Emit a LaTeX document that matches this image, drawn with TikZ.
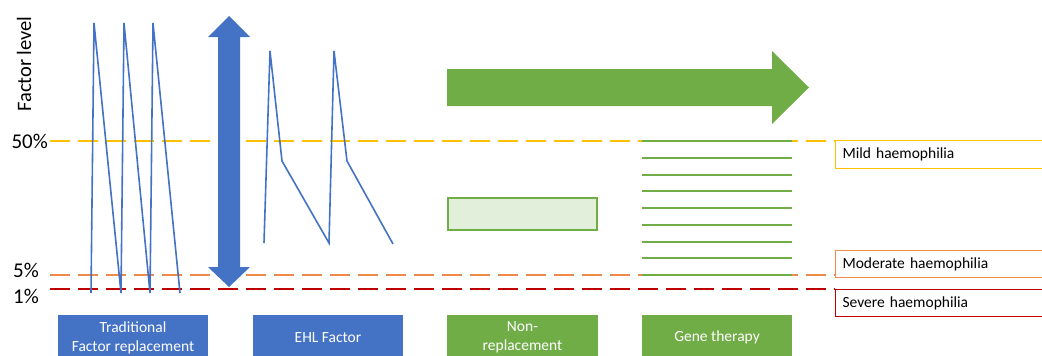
\documentclass[tikz,border=0pt]{standalone}
\usepackage{fontspec}
\setmainfont{Carlito}
\definecolor{cblue}{HTML}{4472C4}
\definecolor{cgreen}{HTML}{70AD47}
\definecolor{clight}{HTML}{E2EFDA}
\definecolor{cyellow}{HTML}{FFC000}
\definecolor{corange}{HTML}{EE8A4A}
\definecolor{cred}{HTML}{C00000}
\begin{document}
\begin{tikzpicture}[x=1pt,y=-1pt,
  levelline/.style={line width=2pt,dash pattern=on 20pt off 8pt},
  zig/.style={cblue,line width=1.6pt,line join=miter},
  catbox/.style={minimum width=150pt,minimum height=46pt,inner sep=0pt,text=white,font=\fontsize{15.5}{19}\selectfont,align=center},
  lvlbox/.style={minimum width=230pt,minimum height=28pt,inner sep=0pt,line width=1pt,font=\fontsize{15.5}{18}\selectfont,anchor=north west,text width=216pt,align=left},
  pct/.style={anchor=east,font=\fontsize{21}{24}\selectfont,inner sep=0pt},
  geneline/.style={cgreen,line width=2pt}]
\useasboundingbox (0,0) rectangle (1042,356);
\clip (0,0) rectangle (1042,356);
% axis labels
\node[rotate=90,font=\fontsize{20.5}{24}\selectfont,inner sep=0pt] (flevel) at (24,64) {Factor level};
\node[pct] (p50) at (48,141) {50\%};
\node[pct] (p5) at (39,270) {5\%};
\node[pct] (p1) at (39,296) {1\%};
% level boxes
\node[lvlbox,draw=cyellow] (mild) at (835,140) {Mild haemophilia};
\node[lvlbox,draw=corange,minimum height=27pt] (moderate) at (835,250) {Moderate haemophilia};
\node[lvlbox,draw=cred,minimum height=27pt] (severe) at (835,289) {Severe haemophilia};
\coordinate (l50) at (50,141);
\coordinate (l5) at (50,275);
\coordinate (l1) at (50,289);
\draw[levelline,cyellow] (l50) -- (l50 -| mild.west);
\draw[levelline,corange] (l5) -- (l5 -| moderate.west);
\draw[levelline,cred] (l1) -- (l1 -| severe.west);
% traditional zigzag
\draw[zig] (91,293) -- (94,23) -- (121,293) -- (124,23) -- (150,293) -- (153,23) -- (180,293);
% blue double arrow
\fill[cblue] (229,16) -- (250,37) -- (240,37) -- (240,267) -- (250,267) -- (229,287) -- (208,267) -- (218,267) -- (218,37) -- (208,37) -- cycle;
% EHL zigzag
\draw[zig] (264,243) -- (270,51) -- (282,161) -- (329,243) -- (334,51) -- (347,161) -- (393,244);
% green arrow
\fill[cgreen] (447,69) -- (772,69) -- (772,51) -- (809,87.5) -- (772,124) -- (772,106) -- (447,106) -- cycle;
% non-replacement box
\node[draw=cgreen,fill=clight,line width=2pt,minimum width=149pt,minimum height=32pt,inner sep=0pt] (nonrep) at (522.5,214) {};
% gene therapy lines
\foreach \i in {0,...,8}{
  \draw[geneline] (642,{141+\i*16.75}) -- (792,{141+\i*16.75});
}
% category boxes
\node[catbox,fill=cblue] (trad) at (133,337.5) {Traditional\\Factor replacement};
\node[catbox,fill=cblue] (ehl) at (328,337.5) {EHL Factor};
\node[catbox,fill=cgreen,minimum width=151pt] (nonrepl) at (522.5,337.5) {Non-\\replacement};
\node[catbox,fill=cgreen] (gene) at (717,337.5) {Gene therapy};
\end{tikzpicture}
\end{document}
